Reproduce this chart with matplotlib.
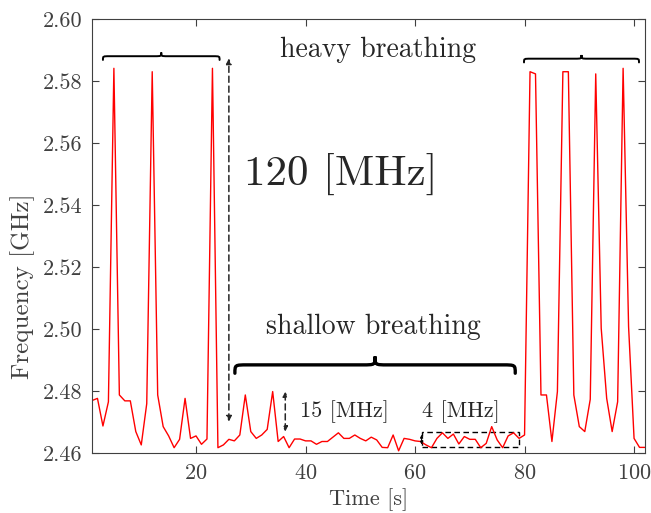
import numpy as np
import matplotlib
matplotlib.use('Agg')
import matplotlib.pyplot as plt
from matplotlib.path import Path
from matplotlib.patches import PathPatch, Rectangle

# Dados
tempo = list(range(1, 103))
frequencia = [
    2.4770, 2.4777, 2.4688, 2.4766, 2.5841, 2.4788, 2.4769, 2.4769, 2.4670, 2.4627,
    2.4760, 2.5830, 2.4788, 2.4686, 2.4656, 2.4618, 2.4645, 2.4777, 2.4648, 2.4656,
    2.4629, 2.4646, 2.5841, 2.4618, 2.4627, 2.4645, 2.4640, 2.4659, 2.4788, 2.4670,
    2.4648, 2.4659, 2.4677, 2.4799, 2.4638, 2.4654, 2.4618, 2.4646, 2.4646, 2.4640,
    2.4640, 2.4629, 2.4638, 2.4638, 2.4652, 2.4666, 2.4648, 2.4648, 2.4659, 2.4648,
    2.4640, 2.4652, 2.4643, 2.4619, 2.4618, 2.4659, 2.4608, 2.4648, 2.4645, 2.4640,
    2.4638, 2.4627, 2.4618, 2.4648, 2.4666, 2.4648, 2.4662, 2.4630, 2.4654, 2.4645,
    2.4645, 2.4618, 2.4632, 2.4686, 2.4643, 2.4618, 2.4656, 2.4666, 2.4648, 2.4659,
    2.5830, 2.5823, 2.4788, 2.4788, 2.4638, 2.4799, 2.5830, 2.5830, 2.4788, 2.4686,
    2.4670, 2.4774, 2.5823, 2.5003, 2.4777, 2.4670, 2.4766, 2.5841, 2.5008, 2.4648,
    2.4619, 2.4619,
]
yticks = [2.46, 2.48, 2.50, 2.52, 2.54, 2.56, 2.58, 2.60]
xticks = [20, 40, 60, 80, 100]

plt.rcParams['font.family'] = 'serif'
plt.rcParams['font.serif'] = ['cmr10']
plt.rcParams['mathtext.fontset'] = 'cm'
plt.rcParams['axes.formatter.use_mathtext'] = True

cinza = '#404040'
preto = '#262626'


# Chave (brace) desenhada com curvas de Bezier
def chave(ax, x0, x1, y, d, r, lw):
    xm = (x0 + x1) / 2
    verts = [(x0, y - d), (x0, y), (x0, y), (x0 + r, y),
             (xm - r, y),
             (xm, y), (xm, y), (xm, y + d),
             (xm, y), (xm, y), (xm + r, y),
             (x1 - r, y),
             (x1, y), (x1, y), (x1, y - d)]
    codes = [Path.MOVETO, Path.CURVE4, Path.CURVE4, Path.CURVE4,
             Path.LINETO,
             Path.CURVE4, Path.CURVE4, Path.CURVE4,
             Path.CURVE4, Path.CURVE4, Path.CURVE4,
             Path.LINETO,
             Path.CURVE4, Path.CURVE4, Path.CURVE4]
    ax.add_patch(PathPatch(Path(verts, codes), fill=False, lw=lw,
                           color='black', capstyle='round'))


def seta_dupla(ax, x, y0, y1, ms):
    ax.annotate('', xy=(x, y1), xytext=(x, y0),
                arrowprops=dict(arrowstyle='<|-|>', linestyle=(0, (4, 2.5)),
                                color=preto, lw=1.1, mutation_scale=ms,
                                shrinkA=0, shrinkB=0))


fig = plt.figure(figsize=(6.51, 5.13), dpi=100)
ax = fig.add_axes([0.1413, 0.1164, 0.8495, 0.8466])

ax.plot(tempo, frequencia, color='red', lw=1.0)

ax.set_xlim(1, 102)
ax.set_ylim(2.46, 2.60)
ax.set_xticks(xticks)
ax.set_yticks(yticks)
ax.set_yticklabels([f'{v:.2f}' for v in yticks])
ax.tick_params(direction='in', length=5, width=0.8, colors=cinza,
               labelsize=16, top=True, right=True, pad=7)
for s in ax.spines.values():
    s.set_color(cinza)
    s.set_linewidth(0.8)

ax.set_xlabel('Time [s]', fontsize=16, color=cinza)
ax.set_ylabel('Frequency [GHz]', fontsize=18, color=cinza)
ax.yaxis.set_label_coords(-0.103, 0.385)

# Anotações
chave(ax, 3.0, 24.3, 2.5880, 0.0012, 1.2, 1.4)
chave(ax, 79.9, 100.9, 2.5872, 0.0012, 1.2, 1.4)
chave(ax, 27.1, 78.3, 2.4885, 0.0027, 2.3, 2.4)

ax.text(53.3, 2.5900, 'heavy breathing', fontsize=20, color=preto,
        ha='center', va='center')
ax.text(52.4, 2.5007, 'shallow breathing', fontsize=20, color=preto,
        ha='center', va='center')
ax.text(28.7, 2.5500, '120 [MHz]', fontsize=31, color=preto,
        ha='left', va='center')
ax.text(39.0, 2.4735, '15 [MHz]', fontsize=16, color=preto,
        ha='left', va='center')
ax.text(61.2, 2.4735, '4 [MHz]', fontsize=16, color=preto,
        ha='left', va='center')

seta_dupla(ax, 26.0, 2.4702, 2.5873, 8)
seta_dupla(ax, 36.3, 2.4670, 2.4799, 7)

ax.add_patch(Rectangle((61.2, 2.4619), 78.9 - 61.2, 2.4668 - 2.4619,
                       fill=False, ls=(0, (4, 2.5)), lw=1.0, color='black'))
ax.annotate('', xy=(61.2, 2.4660), xytext=(61.2, 2.4628),
            arrowprops=dict(arrowstyle='<|-|>', color='black', lw=0.8,
                            mutation_scale=4, shrinkA=0, shrinkB=0))

fig.savefig('out.png', dpi=100)
